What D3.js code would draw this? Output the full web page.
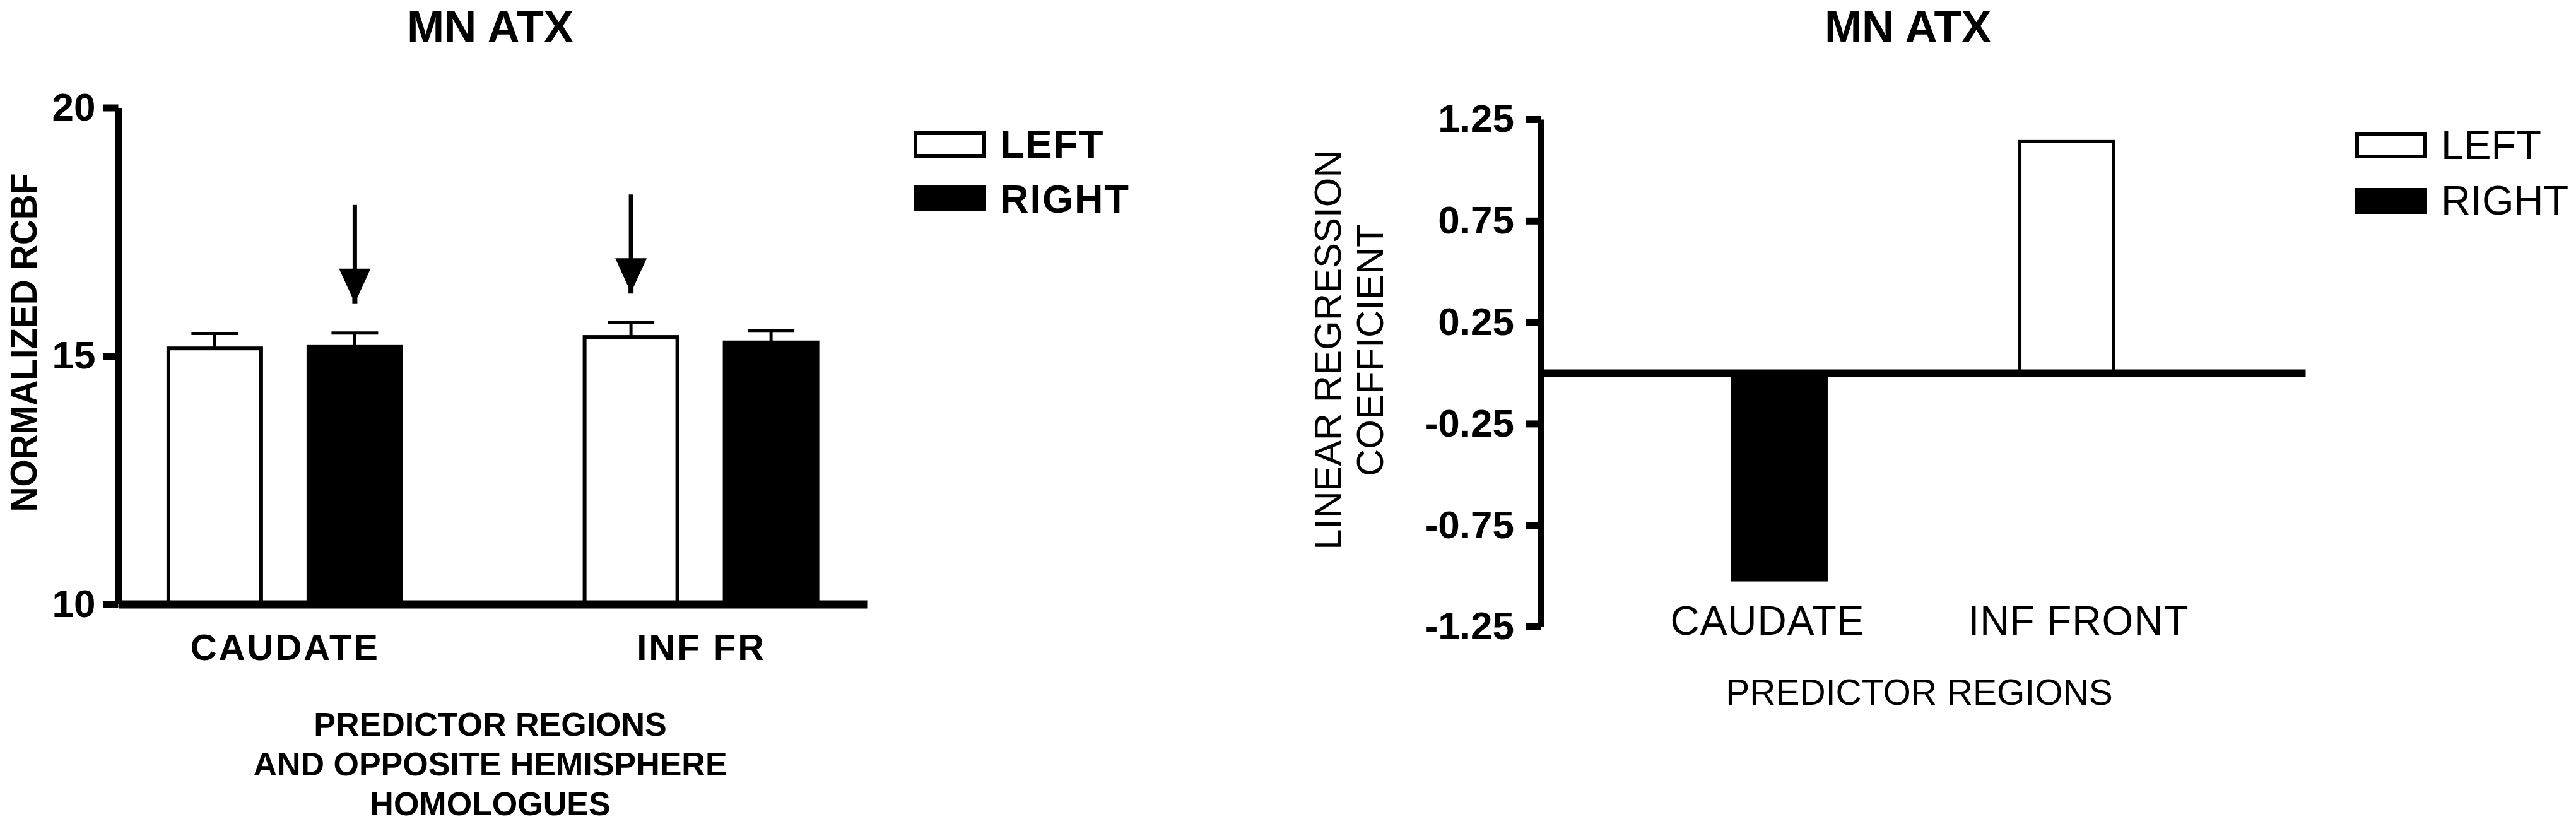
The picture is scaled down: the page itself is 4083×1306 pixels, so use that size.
<!DOCTYPE html>
<html>
<head>
<meta charset="utf-8">
<script src="https://cdn.jsdelivr.net/npm/d3@7"></script>
<style>
  html, body { margin: 0; padding: 0; background: #fff; }
  svg { display: block; }
  text { font-family: "Liberation Sans", Arial, sans-serif; fill: #000; }
</style>
</head>
<body>
<svg id="chart" width="4083" height="1306"></svg>
<script>
// ---------- DATA ----------
const series = ["LEFT", "RIGHT"];

// Panel A: normalized rCBF (mean ± SEM)
const leftCats = ["CAUDATE", "INF FR"];
const rcbfLeftHem  = [15.15, 15.38];
const rcbfRightHem = [15.18, 15.27];
const semLeftHem   = [0.30, 0.29];
const semRightHem  = [0.28, 0.24];
const leftTicks = [10, 15, 20];
const leftYDomain = [10, 20];
const arrowMarks = [["CAUDATE", "RIGHT"], ["INF FR", "LEFT"]];

// Panel B: linear regression coefficients
const rightCats = ["CAUDATE", "INF FRONT"];
const coefLeftHem  = [null, 1.14];
const coefRightHem = [-1.02, null];
const rightTicks = [-1.25, -0.75, -0.25, 0.25, 0.75, 1.25];
const rightYDomain = [-1.25, 1.25];

const titleText = "MN ATX";
const leftYTitle = "NORMALIZED RCBF";
const leftXTitle = ["PREDICTOR REGIONS", "AND OPPOSITE HEMISPHERE", "HOMOLOGUES"];
const rightYTitle = ["LINEAR REGRESSION", "COEFFICIENT"];
const rightXTitle = "PREDICTOR REGIONS";

// ---------- DRAW ----------
const svg = d3.select("#chart");
svg.append("rect").attr("width", 4083).attr("height", 1306).attr("fill", "#fff");

const fill = d3.scaleOrdinal().domain(series).range(["#fff", "#000"]);

// ===== Panel A =====
const gA = svg.append("g");
const xA = d3.scalePoint().domain(leftCats).range([187.5, 1375]).padding(0.4);
const subA = d3.scalePoint().domain(series).range([-111, 111]);
const yA = d3.scaleLinear().domain(leftYDomain).range([957.5, 170.5]);
const barWA = 147;

const dataA = [];
leftCats.forEach((c, i) => {
  dataA.push({cat: c, s: "LEFT", v: rcbfLeftHem[i], e: semLeftHem[i]});
  dataA.push({cat: c, s: "RIGHT", v: rcbfRightHem[i], e: semRightHem[i]});
});

// error bars
const eb = gA.append("g").attr("stroke", "#000").attr("stroke-width", 5);
dataA.forEach(d => {
  const cx = xA(d.cat) + subA(d.s);
  eb.append("line").attr("x1", cx).attr("x2", cx).attr("y1", yA(d.v)).attr("y2", yA(d.v + d.e));
  eb.append("line").attr("x1", cx - 37).attr("x2", cx + 37).attr("y1", yA(d.v + d.e)).attr("y2", yA(d.v + d.e));
});

// bars
gA.append("g").selectAll("rect").data(dataA).join("rect")
  .attr("x", d => xA(d.cat) + subA(d.s) - barWA / 2)
  .attr("width", barWA)
  .attr("y", d => yA(d.v))
  .attr("height", d => yA(leftYDomain[0]) - yA(d.v))
  .attr("fill", d => fill(d.s))
  .attr("stroke", "#000").attr("stroke-width", 6);

// arrows
arrowMarks.forEach(([c, s]) => {
  const d = dataA.find(q => q.cat === c && q.s === s);
  const cx = xA(c) + subA(s);
  const tip = yA(d.v + d.e) - 46;
  gA.append("line").attr("x1", cx).attr("x2", cx).attr("y1", tip - 157).attr("y2", tip - 50)
    .attr("stroke", "#000").attr("stroke-width", 7);
  gA.append("path")
    .attr("d", `M${cx - 25},${tip - 56}H${cx + 25}L${cx + 4},${tip - 10}V${tip}H${cx - 4}V${tip - 10}Z`)
    .attr("fill", "#000");
});

// y axis
const yAxA = gA.append("g").attr("transform", "translate(187.5,0)")
  .call(d3.axisLeft(yA).tickValues(leftTicks).tickSize(24).tickSizeOuter(0).tickPadding(12).tickFormat(d3.format("d")));
yAxA.select(".domain").attr("stroke", "#000").attr("stroke-width", 11);
yAxA.selectAll(".tick line").attr("stroke", "#000").attr("stroke-width", 11);
yAxA.selectAll(".tick text").attr("font-size", 62).attr("font-weight", "bold")
  .attr("font-family", "'Liberation Sans', Arial, sans-serif").attr("fill", "#000");

// x axis
const xAxA = gA.append("g").attr("transform", "translate(0,957.5)")
  .call(d3.axisBottom(xA).tickSize(0).tickSizeOuter(0).tickPadding(47));
xAxA.select(".domain").attr("stroke", "#000").attr("stroke-width", 13);
xAxA.selectAll(".tick text").attr("font-size", 58).attr("font-weight", "bold")
  .attr("letter-spacing", 3)
  .attr("font-family", "'Liberation Sans', Arial, sans-serif").attr("fill", "#000");

// titles
gA.append("text").attr("x", 777).attr("y", 67).attr("text-anchor", "middle")
  .attr("font-size", 71).attr("font-weight", "bold").text(titleText);
gA.append("text").attr("transform", "translate(58,543) rotate(-90)").attr("text-anchor", "middle")
  .attr("font-size", 60).attr("font-weight", "bold")
  .attr("textLength", 537).attr("lengthAdjust", "spacingAndGlyphs").text(leftYTitle);
leftXTitle.forEach((t, i) => {
  gA.append("text").attr("x", 777).attr("y", 1166 + i * 63).attr("text-anchor", "middle")
    .attr("font-size", 52).attr("font-weight", "bold").text(t);
});

// legend
const legA = gA.append("g");
series.forEach((s, i) => {
  legA.append("rect").attr("x", 1451).attr("y", 211 + i * 85).attr("width", 109).attr("height", 36)
    .attr("fill", fill(s)).attr("stroke", "#000").attr("stroke-width", 6);
  legA.append("text").attr("x", 1585).attr("y", 250 + i * 87).attr("font-size", 63)
    .attr("font-weight", "bold").attr("letter-spacing", 2).text(s);
});

// ===== Panel B =====
const gB = svg.append("g");
const xB = d3.scalePoint().domain(rightCats).range([2442, 3654]).padding(0.729);
const subB = d3.scalePoint().domain(series).range([-19, 19]);
const yB = d3.scaleLinear().domain(rightYDomain).range([993, 189]);
const barWB = 148;

const dataB = [];
rightCats.forEach((c, i) => {
  if (coefLeftHem[i] !== null) dataB.push({cat: c, s: "LEFT", v: coefLeftHem[i]});
  if (coefRightHem[i] !== null) dataB.push({cat: c, s: "RIGHT", v: coefRightHem[i]});
});

gB.append("g").selectAll("rect").data(dataB).join("rect")
  .attr("x", d => xB(d.cat) + subB(d.s) - barWB / 2)
  .attr("width", barWB)
  .attr("y", d => Math.min(yB(d.v), yB(0)))
  .attr("height", d => Math.abs(yB(d.v) - yB(0)))
  .attr("fill", d => fill(d.s))
  .attr("stroke", "#000").attr("stroke-width", 5);

// zero line
const zeroAx = gB.append("g").attr("transform", `translate(0,${yB(0)})`)
  .call(d3.axisBottom(xB).tickValues([]).tickSizeOuter(0));
zeroAx.select(".domain").attr("stroke", "#000").attr("stroke-width", 12);

// y axis
const yAxB = gB.append("g").attr("transform", "translate(2442,0)")
  .call(d3.axisLeft(yB).tickValues(rightTicks).tickSize(24).tickSizeOuter(0).tickPadding(18)
    .tickFormat(d => d.toFixed(2)));
yAxB.select(".domain").attr("stroke", "#000").attr("stroke-width", 10);
yAxB.selectAll(".tick line").attr("stroke", "#000").attr("stroke-width", 11);
yAxB.selectAll(".tick text").attr("font-size", 62).attr("font-weight", "bold")
  .attr("font-family", "'Liberation Sans', Arial, sans-serif").attr("fill", "#000");

// category labels
gB.append("g").selectAll("text").data(rightCats).join("text")
  .attr("x", d => xB(d)).attr("y", 1006).attr("text-anchor", "middle")
  .attr("font-size", 64).attr("letter-spacing", 1).text(d => d);

// titles
gB.append("text").attr("x", 3024).attr("y", 67).attr("text-anchor", "middle")
  .attr("font-size", 71).attr("font-weight", "bold").text(titleText);
rightYTitle.forEach((t, i) => {
  gB.append("text").attr("transform", `translate(${2125 + i * 67},555) rotate(-90)`)
    .attr("text-anchor", "middle").attr("font-size", 60).text(t);
});
gB.append("text").attr("x", 3042).attr("y", 1117).attr("text-anchor", "middle")
  .attr("font-size", 57).text(rightXTitle);

// legend
const legB = gB.append("g");
series.forEach((s, i) => {
  legB.append("rect").attr("x", 3736).attr("y", 213 + i * 88).attr("width", 108).attr("height", 35)
    .attr("fill", fill(s)).attr("stroke", "#000").attr("stroke-width", 6);
  legB.append("text").attr("x", 3869).attr("y", 252 + i * 88).attr("font-size", 65).text(s);
});
</script>
</body>
</html>
